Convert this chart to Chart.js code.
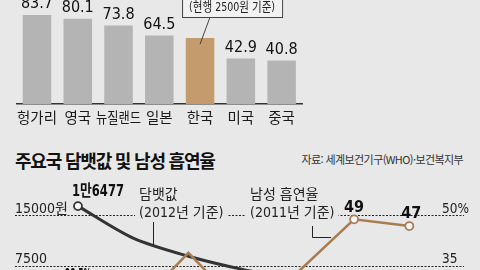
<!DOCTYPE html>
<html lang="ko">
<head>
<meta charset="utf-8">
<script src="https://cdn.jsdelivr.net/npm/chart.js@4.4.0/dist/chart.umd.min.js"></script>
<style>
  html, body { margin: 0; padding: 0; }
  body {
    width: 480px; height: 270px; overflow: hidden; position: relative;
    background: #e8e8e8; font-family: "Noto Sans CJK KR", sans-serif;
  }
  #barWrap { position: absolute; left: 0; top: 0; width: 480px; height: 135px; }
  #lineWrap { position: absolute; left: 0; top: 170px; width: 480px; height: 160px; }
  #title {
    position: absolute; left: 15px; top: 146px; line-height: 28px;
    font-size: 18px; font-weight: bold; letter-spacing: -1.2px; color: #111; white-space: nowrap;
  }
  #source {
    position: absolute; right: 17px; top: 151px; line-height: 16px;
    font-size: 11px; letter-spacing: -0.6px; color: #333; white-space: nowrap;
  }
</style>
</head>
<body>
<div id="barWrap"><canvas id="barChart" width="480" height="135"></canvas></div>
<div id="title">주요국 담뱃값 및 남성 흡연율</div>
<div id="source">자료: 세계보건기구(WHO)·보건복지부</div>
<div id="lineWrap"><canvas id="lineChart" width="480" height="160"></canvas></div>

<script>
// Top chart: bar values
const barCountries = ['헝가리', '영국', '뉴질랜드', '일본', '한국', '미국', '중국'];
const barValues = [83.7, 80.1, 73.8, 64.5, 62, 42.9, 40.8];
const barValueLabels = ['83.7', '80.1', '73.8', '64.5', '', '42.9', '40.8'];
const barNote = '(현행 2500원 기준)';

// Bottom chart: price and male smoking rate
const lineCountries = ['노르웨이', '영국', '프랑스', '독일', '일본', '중국', '한국'];
const cigarettePrice = [16477, 11700, 9000, 7000, 5500, 4000, 2500];
const maleSmoking = [28.5, 22, 39, 22, 33.5, 49, 47];
const priceLabels = ['1만6477', '', '', '', '', '', ''];
const smokingLabels = ['28.5%', '', '', '', '', '49', '47'];
const priceTicks = [7500, 15000];
const priceTickLabels = ['7500', '15000원'];
const smokingTicks = [35, 50];
const smokingTickLabels = ['35', '50%'];

const BG = '#e8e8e8';
const NUM = '"Liberation Sans Narrow", "DejaVu Sans Condensed", "Liberation Sans", "Noto Sans CJK KR", sans-serif';
const KR = '"Noto Sans CJK KR", sans-serif';

// labels + note box for the bar chart
const barLabelPlugin = {
    id: 'barLabels',
    afterDraw(chart) {
        const ctx = chart.ctx;
        const bars = chart.getDatasetMeta(0).data;
        ctx.save();
        ctx.textAlign = 'center';
        ctx.textBaseline = 'middle';
        bars.forEach((bar, i) => {
            ctx.fillStyle = '#111';
            ctx.font = '16px ' + NUM;
            if (barValueLabels[i]) ctx.fillText(barValueLabels[i], bar.x, bar.y - 11);
            ctx.font = '14.5px ' + KR;
            ctx.fillStyle = '#1a1a1a';
            ctx.fillText(barCountries[i], bar.x, 117, 45);
        });

        // note box pointing at Korea
        const kr = bars[barCountries.indexOf('한국')];
        const bx = kr.x - 18, bw = 100;
        ctx.strokeStyle = '#444';
        ctx.lineWidth = 1;
        ctx.beginPath();
        ctx.moveTo(kr.x + 10, 17);
        ctx.lineTo(kr.x, kr.y + 6);
        ctx.stroke();
        ctx.fillStyle = '#f2f2f2';
        ctx.fillRect(bx + 0.5, -3, bw, 20.5);
        ctx.strokeRect(bx + 0.5, -3, bw, 20.5);
        ctx.fillStyle = '#222';
        ctx.font = '13px ' + NUM;
        ctx.fillText(barNote, bx + bw / 2, 8, 86);
        ctx.restore();
    }
};

new Chart(document.getElementById('barChart'), {
    type: 'bar',
    data: {
        labels: barCountries,
        datasets: [{
            data: barValues,
            backgroundColor: barCountries.map(c => c === '한국' ? '#c39b6c' : '#b4b4b4'),
            categoryPercentage: 1,
            barPercentage: 0.7
        }]
    },
    options: {
        responsive: false,
        animation: false,
        layout: { padding: { left: 16.6, right: 178, top: 8.3, bottom: 31 } },
        plugins: { legend: { display: false }, tooltip: { enabled: false } },
        scales: {
            x: {
                grid: { display: false, drawTicks: false },
                ticks: { display: false },
                border: { display: true, color: '#333', width: 1.5 }
            },
            y: { display: false, min: 0, max: 90 }
        }
    },
    plugins: [barLabelPlugin]
});

// texts, leader lines for the line chart
const lineLabelPlugin = {
    id: 'lineLabels',
    afterDraw(chart) {
        const ctx = chart.ctx;
        const yl = chart.scales.y, yr = chart.scales.y1;
        const left = chart.chartArea.left, right = chart.chartArea.right;
        ctx.save();

        // axis labels sit above the dashed lines
        ctx.fillStyle = '#222';
        ctx.font = '14px ' + NUM;
        ctx.textBaseline = 'alphabetic';
        ctx.textAlign = 'left';
        priceTicks.forEach((v, i) => ctx.fillText(priceTickLabels[i], left, yl.getPixelForValue(v) - 3));
        ctx.font = '13.5px ' + NUM;
        smokingTicks.forEach((v, i) => ctx.fillText(smokingTickLabels[i], right - 22, yr.getPixelForValue(v) - 3));

        // series names
        const notes = [
            { x: 139, lines: ['담뱃값', '(2012년 기준)'] },
            { x: 250, lines: ['남성 흡연율', '(2011년 기준)'] }
        ];
        notes.forEach(n => {
            ctx.font = '14px ' + NUM;
            const w = ctx.measureText(n.lines[1]).width;
            ctx.fillStyle = BG;
            ctx.fillRect(n.x - 4, 35, w + 8, 19);
            ctx.fillStyle = '#222';
            ctx.textBaseline = 'middle';
            ctx.fillText(n.lines[0], n.x, 25);
            ctx.fillText(n.lines[1], n.x, 43);
        });
        ctx.strokeStyle = '#222';
        ctx.lineWidth = 1;
        ctx.beginPath();
        ctx.moveTo(153.5, 52); ctx.lineTo(153.5, 75);
        ctx.moveTo(312.5, 56); ctx.lineTo(312.5, 67.5); ctx.lineTo(331, 67.5);
        ctx.stroke();

        // value labels
        ctx.font = 'bold 16px ' + NUM;
        ctx.fillStyle = '#111';
        const black = chart.getDatasetMeta(1).data;
        const brown = chart.getDatasetMeta(0).data;
        black.forEach((p, i) => {
            if (!priceLabels[i]) return;
            ctx.textAlign = 'left';
            ctx.fillText(priceLabels[i], p.x - 6, p.y - 14, 52);
        });
        brown.forEach((p, i) => {
            if (!smokingLabels[i]) return;
            ctx.textAlign = 'center';
            ctx.fillText(smokingLabels[i], p.x + (i === 6 ? 2 : 0), p.y - 12, 26);
        });
        ctx.restore();
    }
};

const marker = list => c => list[c.dataIndex] ? 4 : 0;

new Chart(document.getElementById('lineChart'), {
    type: 'line',
    data: {
        datasets: [
            {
                label: '남성 흡연율',
                yAxisID: 'y1',
                order: 0,
                data: maleSmoking.map((v, i) => ({ x: i, y: v })),
                borderColor: '#a87d52',
                borderWidth: 2.5,
                tension: 0,
                pointRadius: marker(smokingLabels),
                pointBackgroundColor: '#f7f7f7',
                pointBorderColor: '#a87d52',
                pointBorderWidth: 1.8
            },
            {
                label: '담뱃값',
                yAxisID: 'y',
                order: 1,
                data: cigarettePrice.map((v, i) => ({ x: i, y: v })),
                borderColor: '#333',
                borderWidth: 3,
                tension: 0.3,
                pointRadius: marker(priceLabels),
                pointBackgroundColor: '#f7f7f7',
                pointBorderColor: '#333',
                pointBorderWidth: 1.8
            }
        ]
    },
    options: {
        responsive: false,
        animation: false,
        layout: { padding: { left: 15, right: 16, top: 5, bottom: 13.5 } },
        plugins: { legend: { display: false }, tooltip: { enabled: false } },
        scales: {
            x: { type: 'linear', display: false, min: -1.14, max: 6.99 },
            y: {
                min: 0, max: 21000,
                afterBuildTicks: s => { s.ticks = priceTicks.map(v => ({ value: v })); },
                ticks: { display: false },
                grid: { drawTicks: false, color: '#222', lineWidth: 1 },
                border: { display: false, dash: [2, 1.5] }
            },
            y1: { display: false, min: 20, max: 62 }
        }
    },
    plugins: [lineLabelPlugin]
});
</script>
</body>
</html>
